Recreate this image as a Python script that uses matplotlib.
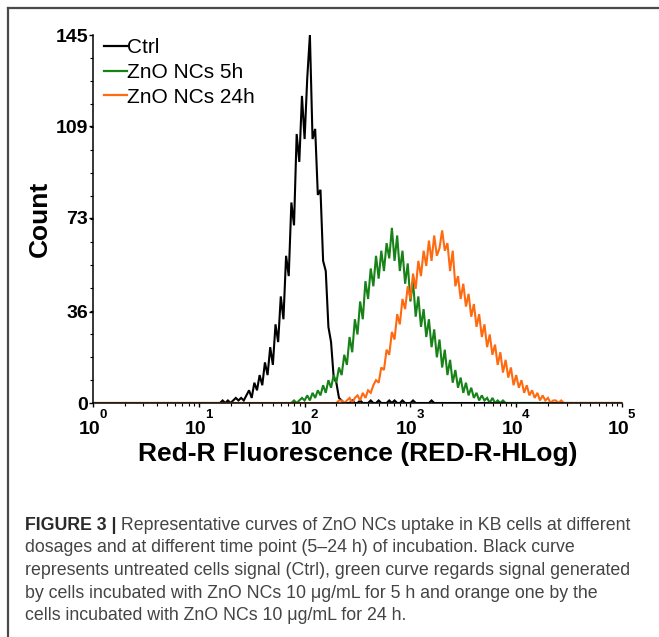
import matplotlib
matplotlib.use("Agg")
import matplotlib.pyplot as plt
import numpy as np
from matplotlib.lines import Line2D

plt.rcParams['font.family'] = ['Liberation Sans', 'DejaVu Sans']

# ---------------- data (histogram channels, log10 spacing) ----------------
channel_step = 0.025  # log10 width of one plotted channel

ctrl_start = 1.200
ctrl_count = [0, 1, 0, 1, 0, 1, 2, 1, 2, 1,
              3, 5, 2, 8, 5, 11, 7, 16, 11, 22,
              15, 31, 24, 42, 33, 58, 50, 79, 70, 106,
              95, 121, 104, 128, 145, 104, 108, 82, 84, 56,
              52, 30, 24, 10, 8, 2, 1, 0, 0,
              0, 1, 0, 0, 1, 0, 0, 0, 1, 0, 0, 1, 0, 0, 0, 1, 0, 1, 0,
              0, 1, 0, 0, 0, 1, 0, 0, 0, 0, 0, 0, 1, 0, 0, 0, 0]

zno5h_start = 1.850
zno5h_count = [0, 0, 1, 0, 1, 2, 1, 3, 1, 4,
               2, 5, 3, 7, 4, 9, 6, 11, 8, 14,
               11, 19, 15, 26, 20, 33, 27, 40, 33, 48,
               41, 53, 46, 58, 49, 60, 52, 63, 57, 69,
               56, 66, 52, 60, 47, 55, 40, 48, 34, 42,
               30, 37, 26, 33, 22, 29, 18, 25, 14, 21,
               11, 17, 8, 13, 6, 10, 4, 8, 3, 6,
               2, 4, 1, 3, 1, 2, 0, 2, 0, 1,
               0, 1, 0]

zno24h_start = 2.300
zno24h_count = [0, 1, 1, 0, 1, 2, 0, 2, 3, 1,
                4, 2, 5, 4, 7, 9, 8, 14, 13, 21,
                19, 28, 25, 35, 31, 41, 37, 46, 41, 51,
                45, 56, 50, 60, 54, 64, 56, 66, 58, 61,
                68, 60, 63, 52, 60, 46, 50, 41, 47, 38,
                43, 34, 39, 30, 35, 26, 31, 22, 27, 19,
                23, 15, 20, 12, 17, 10, 14, 7, 11, 6,
                9, 4, 7, 3, 5, 2, 4, 1, 3, 1,
                2, 0, 1, 1, 0, 1, 0, 0]

series_labels = ["Ctrl", "ZnO NCs 5h", "ZnO NCs 24h"]
series_colors = ["#000000", "#178217", "#ff6a10"]

y_ticks = [0, 36, 73, 109, 145]
x_decades = [0, 1, 2, 3, 4, 5]

caption_bold = "FIGURE 3 |"
caption_lines = [
    " Representative curves of ZnO NCs uptake in KB cells at different",
    "dosages and at different time point (5\u201324 h) of incubation. Black curve",
    "represents untreated cells signal (Ctrl), green curve regards signal generated",
    "by cells incubated with ZnO NCs 10 \u03bcg/mL for 5 h and orange one by the",
    "cells incubated with ZnO NCs 10 \u03bcg/mL for 24 h.",
]

# ---------------- figure ----------------
W, H = 659, 637
fig = plt.figure(figsize=(W / 100, H / 100), dpi=100)
ax = fig.add_axes([93 / W, 1 - 403 / H, 529 / W, 368 / H])

def channels(start, counts):
    x = 10 ** (start + channel_step * np.arange(len(counts)))
    x = np.concatenate([[1.0], x, [1e5]])
    y = np.concatenate([[0], counts, [0]])
    return x, y

for (start, counts), lab, col in zip(
        [(ctrl_start, ctrl_count), (zno5h_start, zno5h_count), (zno24h_start, zno24h_count)],
        series_labels, series_colors):
    x, y = channels(start, counts)
    ax.plot(x, y, color=col, lw=1.5, label=lab, solid_joinstyle='miter')

ax.set_xscale('log')
ax.set_xlim(1, 1e5)
ax.set_ylim(0, 145)
for s in ['top', 'right']:
    ax.spines[s].set_visible(False)
for s in ['left', 'bottom']:
    ax.spines[s].set_linewidth(1.1)

ax.set_yticks(y_ticks)
ax.set_yticks(np.linspace(0, 145, 17), minor=True)
ax.set_yticklabels([str(v) for v in y_ticks], fontsize=14, fontweight='bold')
ax.tick_params(axis='y', which='major', direction='out', length=3, width=1, pad=0.5)
ax.tick_params(axis='y', which='minor', direction='out', length=2, width=0.8)

ax.set_xticks([10 ** d for d in x_decades])
ax.set_xticklabels([''] * len(x_decades))
ax.tick_params(axis='x', which='major', direction='out', length=3, width=1)
ax.tick_params(axis='x', which='minor', direction='out', length=2, width=0.8)

for d in x_decades:
    ax.annotate("10", xy=(10 ** d, 0), xycoords=('data', 'axes fraction'),
                xytext=(-2.5, -13), textcoords='offset points',
                ha='center', va='top', fontsize=14, fontweight='bold')
    ax.annotate(str(d), xy=(10 ** d, 0), xycoords=('data', 'axes fraction'),
                xytext=(7, -4), textcoords='offset points',
                ha='center', va='top', fontsize=9.5, fontweight='bold')

ax.set_ylabel("Count", fontsize=19, fontweight='bold')
ax.yaxis.set_label_coords(-0.077, 0.5)
ax.set_xlabel("Red-R Fluorescence (RED-R-HLog)", fontsize=19, fontweight='bold', va='top')
ax.xaxis.set_label_coords(0.5, -0.105)

leg = ax.legend(loc='upper left', bbox_to_anchor=(0.021, 0.991), frameon=False,
                fontsize=15, handlelength=1.1, handletextpad=0.0,
                labelspacing=0.27, borderaxespad=0, borderpad=0)
for h in leg.legend_handles:
    h.set_linewidth(1.6)

# ---------------- frame ----------------
fig.add_artist(Line2D([8 / W, 1], [1 - 8 / H, 1 - 8 / H], transform=fig.transFigure,
                      color='#4a4a4a', lw=1.6))
fig.add_artist(Line2D([8 / W, 8 / W], [1 - 8 / H, 0], transform=fig.transFigure,
                      color='#4a4a4a', lw=1.6))

# ---------------- caption ----------------
cap_family = ['Liberation Sans', 'DejaVu Sans']
renderer = fig.canvas.get_renderer()
probe = fig.text(0, 0, caption_lines[2], fontsize=12, family=cap_family)
w12 = probe.get_window_extent(renderer).width
probe.remove()
cap_size = 12 * (607 / w12)

baselines = [530, 552.5, 575, 597.5, 620]
tb = fig.text(25 / W, 1 - baselines[0] / H, caption_bold, fontsize=cap_size,
              fontweight='bold', color='#2a2a2a', family=cap_family, va='baseline')
ax.annotate(caption_lines[0], xy=(1, 0), xycoords=tb, va='bottom', ha='left',
            fontsize=cap_size, color='#444444', family=cap_family,
            annotation_clip=False)
for line, b in zip(caption_lines[1:], baselines[1:]):
    fig.text(25 / W, 1 - b / H, line, fontsize=cap_size, color='#444444',
             family=cap_family, va='baseline')

fig.savefig("out.png", dpi=100)
